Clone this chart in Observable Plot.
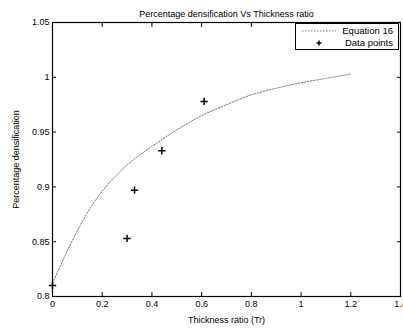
<!DOCTYPE html>
<html>
<head>
<meta charset="utf-8">
<script src="https://cdn.jsdelivr.net/npm/d3@7"></script>
<script src="https://cdn.jsdelivr.net/npm/@observablehq/plot@0.6"></script>
<style>
  body { margin: 0; background: #fff; }
  #wrap { position: relative; width: 403px; height: 329px; overflow: hidden; font-family: "Liberation Sans", Arial, sans-serif; }
  #legend { position: absolute; left: 295px; top: 23px; width: 104px; height: 27px; border: 1px solid #000; background: #fff; box-sizing: border-box; font-size: 9.5px; }
  #legend .row { position: absolute; left: 0; right: 3px; height: 12px; line-height: 12px; }
  #legend .lab { position: absolute; right: 2px; }
</style>
</head>
<body>
<div id="wrap"></div>
<script>
// Equation 16 curve
const eqX = [0, 0.05, 0.1, 0.15, 0.2, 0.25, 0.3, 0.35, 0.4, 0.5, 0.6, 0.7, 0.8, 0.9, 1.0, 1.1, 1.2];
const eqY = [0.812, 0.837, 0.86, 0.88, 0.896, 0.909, 0.92, 0.929, 0.937, 0.952, 0.965, 0.975, 0.984, 0.99, 0.995, 0.999, 1.003];
// Data points
const ptX = [0, 0.3, 0.33, 0.44, 0.61];
const ptY = [0.81, 0.853, 0.897, 0.933, 0.978];
// Ticks
const xTicks = [0, 0.2, 0.4, 0.6, 0.8, 1, 1.2, 1.4];
const xTickLabels = ["0", "0.2", "0.4", "0.6", "0.8", "1", "1.2", "1.4"];
const yTicks = [0.8, 0.85, 0.9, 0.95, 1, 1.05];
const yTickLabels = ["0.8", "0.85", "0.9", "0.95", "1", "1.05"];
const title = "Percentage densification Vs Thickness ratio";
const xLabel = "Thickness ratio (Tr)";
const yLabel = "Percentage densification";
const seriesNames = ["Equation 16", "Data points"];

const curve = eqX.map((x, i) => ({x, y: eqY[i]}));
const pts = ptX.map((x, i) => ({x, y: ptY[i]}));
const fmtX = d => xTickLabels[xTicks.indexOf(d)];
const fmtY = d => yTickLabels[yTicks.findIndex(t => Math.abs(t - d) < 1e-9)];

const chart = Plot.plot({
  width: 403,
  height: 329,
  marginLeft: 52,
  marginRight: 3,
  marginTop: 22,
  marginBottom: 33,
  style: {fontFamily: "'Liberation Sans', Arial, sans-serif", fontSize: "9px", background: "#fff", overflow: "hidden"},
  x: {domain: [0, 1.4]},
  y: {domain: [0.8, 1.05]},
  marks: [
    Plot.frame({stroke: "#000", strokeWidth: 1.2}),
    Plot.axisX(xTicks, {anchor: "bottom", tickSize: -4, tickPadding: 8, tickFormat: fmtX, label: xLabel, labelAnchor: "center", labelOffset: 26, labelArrow: "none", fill: "#000"}),
    Plot.axisX(xTicks, {anchor: "top", tickSize: -4, tickFormat: () => "", label: null}),
    Plot.axisY(yTicks, {anchor: "left", tickSize: -4, tickPadding: 7, tickFormat: fmtY, label: yLabel, labelAnchor: "center", labelOffset: 40, labelArrow: "none", fill: "#000"}),
    Plot.axisY(yTicks, {anchor: "right", tickSize: -4, tickFormat: () => "", label: null}),
    Plot.line(curve, {x: "x", y: "y", stroke: "#777", strokeWidth: 1, strokeDasharray: "1.5,1.5", curve: "monotone-x"}),
    Plot.dot(pts, {x: "x", y: "y", symbol: "plus", r: 2.5, stroke: "#000", strokeWidth: 1.5}),
    Plot.text([title], {frameAnchor: "top", dy: -12, fontSize: 9, fill: "#000"})
  ]
});
document.getElementById("wrap").appendChild(chart);

const legend = document.createElement("div");
legend.id = "legend";
legend.innerHTML = `
  <div class="row" style="top:1px">
    <svg width="40" height="12" style="position:absolute;left:4px;top:0"><line x1="2" x2="36" y1="6" y2="6" stroke="#777" stroke-dasharray="1.5,1.5"/></svg>
    <span class="lab">${seriesNames[0]}</span></div>
  <div class="row" style="top:13px">
    <svg width="40" height="12" style="position:absolute;left:4px;top:0"><path d="M16.5,6h5M19,3.5v5" stroke="#000" stroke-width="1.5"/></svg>
    <span class="lab">${seriesNames[1]}</span></div>`;
document.getElementById("wrap").appendChild(legend);
</script>
</body>
</html>
